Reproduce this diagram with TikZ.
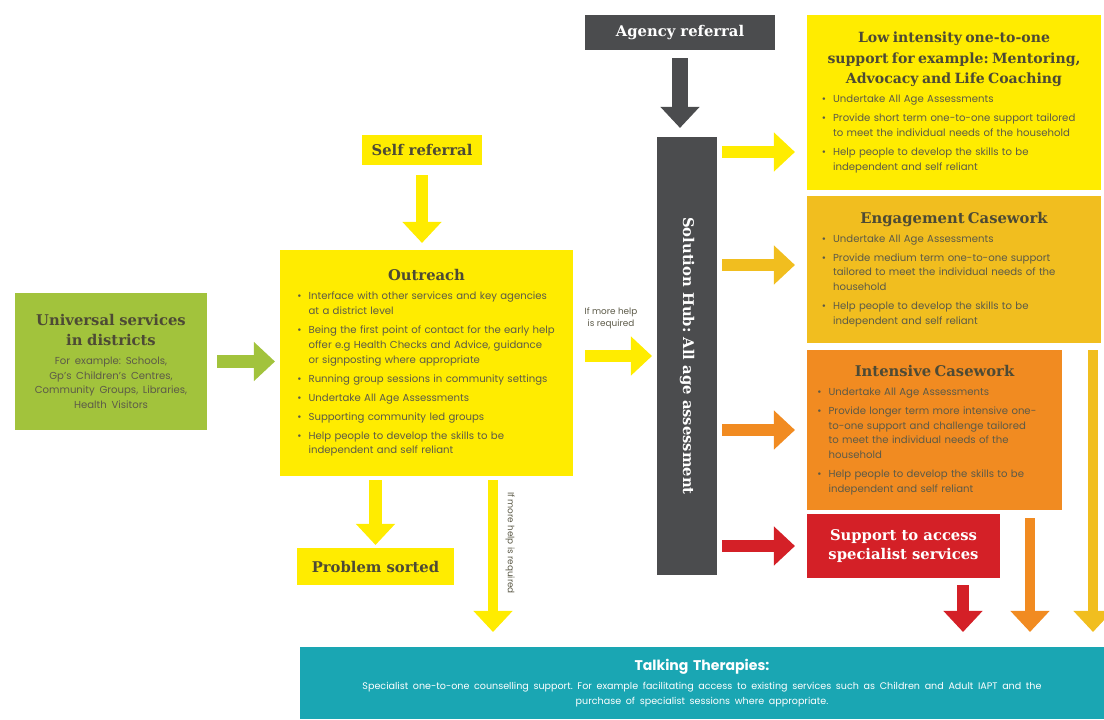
\documentclass[tikz,border=0pt]{standalone}
\usepackage{fontspec}
\setmainfont{Poppins}
\newfontfamily\slab{DejaVu Serif}
\usetikzlibrary{arrows.meta,positioning,calc}

\definecolor{sunyellow}{HTML}{FFEC00}
\definecolor{goldbox}{HTML}{F1BE1F}
\definecolor{orangebox}{HTML}{F18B21}
\definecolor{alertred}{HTML}{D42027}
\definecolor{leafgreen}{HTML}{A2C33C}
\definecolor{agencygrey}{HTML}{4B4C4E}
\definecolor{talkteal}{HTML}{1AA6B3}
\definecolor{ink}{HTML}{4D4A35}
\definecolor{softink}{HTML}{5C5A48}

\hyphenpenalty=10000
\exhyphenpenalty=10000
\frenchspacing
\newcommand\titlefont{\slab\bfseries\fontsize{10.5}{14}\selectfont}
\newcommand\bodyfont{\fontsize{7.2}{10.5}\selectfont}
\newcommand\bitem[1]{\par\vskip3pt\hangindent=1.1em\hangafter=1\noindent\makebox[1.1em][l]{\textbullet}#1\par}

\begin{document}
\begin{tikzpicture}[x=0.025cm,y=-0.025cm,
  box/.style={inner sep=0pt,outer sep=0pt,align=center},
  listbox/.style={box,align=left,text=softink,font=\bodyfont},
  flow/.style={line width=9pt,-{Triangle[width=27pt,length=15pt]}},
  thin flow/.style={line width=7pt,-{Triangle[width=27pt,length=15pt]}}]
\useasboundingbox (0,0) rectangle (1104,719);

\node[box,fill=agencygrey,text=white,font=\titlefont,minimum width=4.75cm,minimum height=0.875cm] (agency) at (680,32.5) {Agency referral};
\node[box,fill=agencygrey,minimum width=1.5cm,minimum height=10.95cm,
  label={[rotate=-90,text=white,font=\titlefont]center:Solution Hub: All age assessment}] (hub) at (687,356) {};
\node[box,fill=sunyellow,text=ink,font=\titlefont,minimum width=3cm,minimum height=0.75cm] (self) at (422,150) {Self referral};

\node[box,fill=leafgreen,text=ink,text width=4.6cm,minimum width=4.8cm,minimum height=3.425cm] (universal) at (111,361.5)
  {{\titlefont Universal services\\in districts\par}\vskip3pt
   {\bodyfont\color{softink} For example: Schools,\\Gp's Children's Centres,\\Community Groups, Libraries,\\Health Visitors\par}};

\node[listbox,fill=sunyellow,text width=6.45cm,minimum width=7.325cm,minimum height=5.65cm] (outreach) at (426.5,363)
  {{\centering\titlefont\color{ink} Outreach\par}
   \bitem{Interface with other services and key agencies at a district level}
   \bitem{Being the first point of contact for the early help offer e.g Health Checks and Advice, guidance or signposting where appropriate}
   \bitem{Running group sessions in community settings}
   \bitem{Undertake All Age Assessments}
   \bitem{Supporting community led groups}
   \bitem{Help people to develop the skills to be independent and self reliant}};

\node[box,fill=sunyellow,text=ink,font=\titlefont,minimum width=3.925cm,minimum height=0.925cm] (problem) at (375.5,566.5) {Problem sorted};

\node[box,text=softink,font=\fontsize{6.3}{8.5}\selectfont] (morehelp) at (611,318) {If more help\\is required};
\node[box,text=softink,font=\fontsize{6.3}{8.5}\selectfont,rotate=-90] (morehelpdown) at (510,543) {If more help is required};

\node[listbox,fill=sunyellow,text width=6.6cm,minimum width=7.35cm,minimum height=4.375cm] (low) at (954,102.5)
  {{\centering\slab\bfseries\fontsize{10}{14.5}\selectfont\color{ink} Low intensity one-to-one\\support for example: Mentoring,\\Advocacy and Life Coaching\par}
   \bitem{Undertake All Age Assessments}
   \bitem{Provide short term one-to-one support tailored to meet the individual needs of the household}
   \bitem{Help people to develop the skills to be independent and self reliant}};

\node[listbox,fill=goldbox,text width=6.6cm,minimum width=7.35cm,minimum height=3.675cm] (engage) at (954,269.5)
  {{\centering\titlefont\color{ink} Engagement Casework\par}
   \bitem{Undertake All Age Assessments}
   \bitem{Provide medium term one-to-one support tailored to meet the individual needs of the household}
   \bitem{Help people to develop the skills to be independent and self reliant}\vskip8pt};

\node[listbox,fill=orangebox,text width=5.85cm,minimum width=6.375cm,minimum height=4cm] (intensive) at (934.5,430)
  {{\centering\titlefont\color{ink} Intensive Casework\par}
   \bitem{Undertake All Age Assessments}
   \bitem{Provide longer term more intensive one-\linebreak to-one support and challenge tailored to meet the individual needs of the household}
   \bitem{Help people to develop the skills to be independent and self reliant}};

\node[box,fill=alertred,text=white,font=\titlefont,minimum width=4.825cm,minimum height=1.6cm] (support) at (903.5,546) {Support to access\\specialist services};

\node[box,fill=talkteal,text=white,text width=19.5cm,minimum width=20.1cm,minimum height=1.8cm] (talking) at (702,683)
  {{\bfseries\fontsize{10}{13}\selectfont Talking Therapies:\par}\vskip3pt
   {\fontsize{6.8}{10.5}\selectfont Specialist one-to-one counselling support. For example facilitating access to existing services such as Children and Adult IAPT and the\\purchase of specialist sessions where appropriate.\par}};

\draw[flow,agencygrey,line width=11pt,shorten <=0.2cm,shorten >=0.225cm] (agency.south) -- (agency.south |- hub.north);
\draw[flow,sunyellow,shorten <=0.25cm,shorten >=0.175cm] (self.south) -- (self.south |- outreach.north);
\draw[flow,leafgreen,shorten <=0.25cm,shorten >=0.125cm] (universal.east) -- (outreach.west |- universal.east);
\draw[flow,sunyellow,shorten <=0.3cm,shorten >=0.125cm] (outreach.east |- hub.west) -- (hub.west);
\draw[flow,sunyellow,shorten <=0.1cm,shorten >=0.075cm] (problem.north |- outreach.south) -- (problem.north);
\coordinate (branch) at (493,476);
\draw[thin flow,sunyellow,shorten <=0.1cm,shorten >=0.375cm] (branch) -- (branch |- talking.north);

\draw[flow,sunyellow,shorten <=0.125cm,shorten >=0.3cm] (hub.east |- 0,152) -- (low.west |- 0,152);
\draw[flow,goldbox,shorten <=0.125cm,shorten >=0.3cm] (hub.east |- 0,265) -- (engage.west |- 0,265);
\draw[flow,orangebox,shorten <=0.125cm,shorten >=0.3cm] (hub.east |- intensive.west) -- (intensive.west);
\draw[flow,alertred,shorten <=0.125cm,shorten >=0.3cm] (hub.east |- support.west) -- (support.west);

\draw[flow,alertred,shorten <=0.175cm,shorten >=0.375cm] (support.south -| 963,0) -- (talking.north -| 963,0);
\draw[thin flow,orangebox,shorten <=0.2cm,shorten >=0.375cm] (intensive.south -| 1030,0) -- (talking.north -| 1030,0);
\draw[thin flow,goldbox,shorten <=0.175cm,shorten >=0.375cm] (engage.south -| 1093,0) -- (talking.north -| 1093,0);
\end{tikzpicture}
\end{document}
